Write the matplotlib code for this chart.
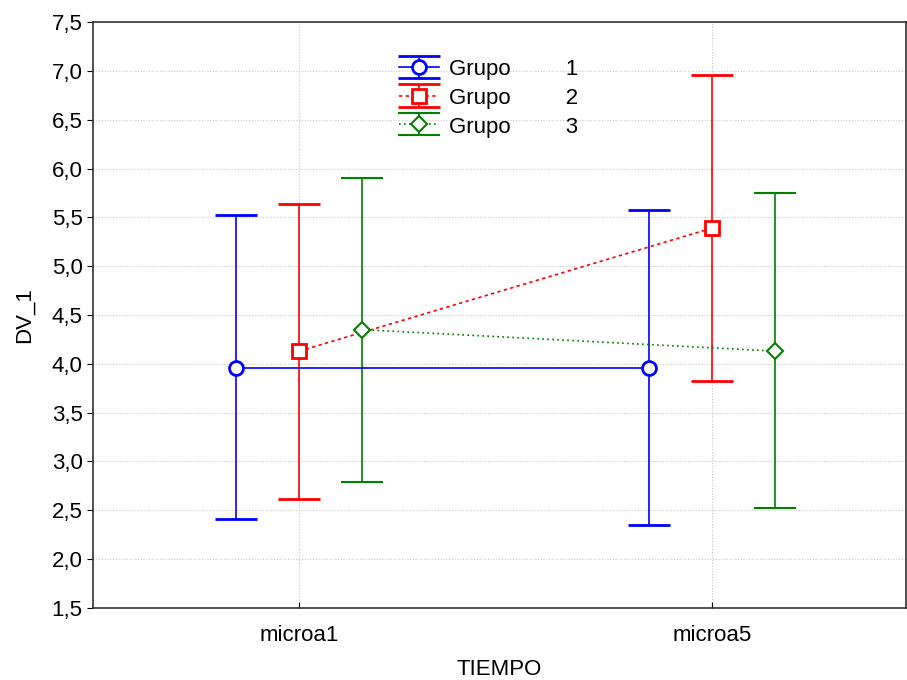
import matplotlib
matplotlib.use('Agg')
import matplotlib.pyplot as plt
from matplotlib.ticker import FuncFormatter, MultipleLocator

# Means and confidence limits per group, for each time point
categories = ['microa1', 'microa5']
groups = ['1', '2', '3']
means = {
    '1': [3.96, 3.96],
    '2': [4.13, 5.39],
    '3': [4.35, 4.13],
}
lower = {
    '1': [2.41, 2.35],
    '2': [2.62, 3.82],
    '3': [2.79, 2.52],
}
upper = {
    '1': [5.52, 5.58],
    '2': [5.64, 6.96],
    '3': [5.90, 5.75],
}

colors = {'1': '#0000FF', '2': '#FF0000', '3': '#008000'}
markers = {'1': 'o', '2': 's', '3': 'D'}
msizes = {'1': 10, '2': 9.5, '3': 8.5}
styles = {'1': '-', '2': (0, (2, 2)), '3': (0, (1, 2))}
offsets = {'1': -0.153, '2': 0.0, '3': 0.153}

plt.rcParams['font.family'] = ['Liberation Sans', 'DejaVu Sans']

fig = plt.figure(figsize=(9.07, 6.8), dpi=100)
ax = fig.add_axes([0.1025, 0.106, 0.8965, 0.8615])

for g in groups:
    xs = [i + offsets[g] for i in range(len(categories))]
    m = means[g]
    yerr = [[m[i] - lower[g][i] for i in range(len(m))],
            [upper[g][i] - m[i] for i in range(len(m))]]
    ax.errorbar(xs, m, yerr=yerr, color=colors[g], ls=styles[g], lw=1.2,
                marker=markers[g], ms=msizes[g], mfc='white', mec=colors[g],
                mew=2 if g != '3' else 1.5, capsize=15, capthick=1.0,
                elinewidth=1.2, label=f'Grupo         {g}', zorder=3)

ax.set_xlim(-0.5, 1.47)
ax.set_ylim(1.5, 7.5)
ax.set_xticks(range(len(categories)))
ax.set_xticklabels(categories)
ax.yaxis.set_major_locator(MultipleLocator(0.5))
ax.yaxis.set_major_formatter(FuncFormatter(lambda v, p: f'{v:.1f}'.replace('.', ',')))

ax.grid(True, color='#c8c8c8', linestyle=(0, (1, 1.5)), linewidth=0.8)
ax.set_axisbelow(True)
for s in ax.spines.values():
    s.set_linewidth(1.2)
    s.set_color('#333333')
ax.tick_params(axis='y', direction='out', length=4, labelsize=16)
ax.tick_params(axis='x', direction='in', length=4, labelsize=16, pad=12)

ax.set_xlabel('TIEMPO', fontsize=16, labelpad=10)
ax.set_ylabel('DV_1', fontsize=16, labelpad=12)

ax.legend(loc='upper left', bbox_to_anchor=(0.352, 0.972), frameon=False,
          fontsize=16, handlelength=1.8, handleheight=0.9, labelspacing=0.3,
          handletextpad=0.45)

fig.savefig('out.png', dpi=100)
